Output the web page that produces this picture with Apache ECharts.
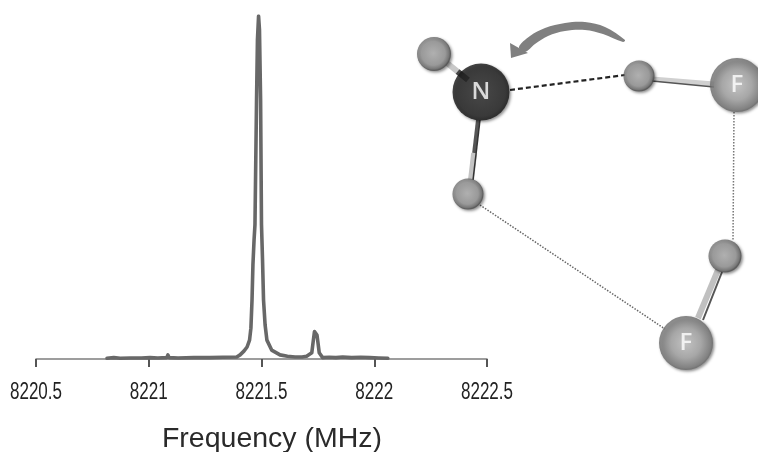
<!DOCTYPE html>
<html>
<head>
<meta charset="utf-8">
<style>html,body{margin:0;padding:0;background:#fff}#c{width:758px;height:452px}</style>
<script src="https://cdn.jsdelivr.net/npm/echarts@6/dist/echarts.min.js"></script>
</head>
<body>
<div id="c"></div>
<script>
const frequency = [8220.815,8220.845,8220.873,8220.92,8220.955,8220.961,8220.967,8221.006,8221.04,8221.08,8221.085,8221.09,8221.13,8221.2,8221.27,8221.33,8221.39,8221.405,8221.422,8221.436,8221.447,8221.453,8221.458,8221.462,8221.467,8221.471,8221.478,8221.482,8221.487,8221.491,8221.496,8221.500,8221.5045,8221.509,8221.516,8221.524,8221.545,8221.582,8221.615,8221.649,8221.68,8221.70,8221.723,8221.730,8221.735,8221.740,8221.746,8221.749,8221.756,8221.771,8221.80,8221.83,8221.86,8221.90,8221.94,8221.98,8222.02,8222.06];
const intensity = [0.002,0.004,0.002,0.003,0.003,0.006,0.003,0.004,0.003,0.004,0.012,0.004,0.003,0.004,0.004,0.005,0.006,0.012,0.023,0.035,0.055,0.090,0.172,0.274,0.347,0.391,0.755,0.93,1.0,0.96,0.755,0.391,0.29,0.172,0.099,0.055,0.026,0.012,0.008,0.006,0.006,0.008,0.018,0.055,0.08,0.082,0.07,0.055,0.018,0.004,0.005,0.004,0.006,0.004,0.005,0.004,0.003,0.002];
const xTickValues = [8220.5,8221,8221.5,8222,8222.5];
const xTickLabels = ['8220.5','8221','8221.5','8222','8222.5'];
const xTitle = 'Frequency (MHz)';

// molecule diagram, in the units of the hidden diagram axes
const atomNames = ['H','N','H','F','H','H','F'];
const atomX = [434,481,639,737,468,725,686];
const atomY = [54,92,76,85,194,256,343];
const atomSizes = [34,57,31,54,31,33,54];

const dashedBondX = [510,625]; const dashedBondY = [90,75];
const dottedBond1X = [734,733]; const dottedBond1Y = [112,240];
const dottedBond2X = [480,665]; const dottedBond2Y = [205,329];

const bond1X = [447,468]; const bond1Y = [63,80];
const bond2X = [478,471]; const bond2Y = [120,180];
const bond2LineX = [480,473]; const bond2LineY = [120,180];
const bond3X = [652,714]; const bond3Y = [79,84];
const bond3LineX = [652,714]; const bond3LineY = [81,87];
const bond4X = [718,698]; const bond4Y = [270,318];
const bond4LineX = [722,703]; const bond4LineY = [272,320];

const arrowHeadX = [510,511,528]; const arrowHeadY = [43,58,53];
const arrowBodyX = [519,530,545,565,585,605,625,623,603,585,565,548,535,525];
const arrowBodyY = [47,36,28,23,22,27,40,42,34,30,31,36,44,52];

const chart = echarts.init(document.getElementById('c'), null, {renderer:'canvas'});
const FONT = '"Liberation Sans", Arial, sans-serif';

function bond(xs, ys, width, color, type) {
  return {type:'line', xAxisIndex:1, yAxisIndex:1, symbol:'none', silent:true, z:2,
    data:[[xs[0],ys[0]],[xs[1],ys[1]]],
    lineStyle:{width:width,color:color,type:type||'solid',cap:'butt'}};
}
function part(xs, ys, from, to) {
  const p = t => [xs[0]+(xs[1]-xs[0])*t, ys[0]+(ys[1]-ys[0])*t];
  const a = p(from), b = p(to);
  return [[a[0],b[0]],[a[1],b[1]]];
}
function atomFill(name) {
  if (name === 'N') return {type:'radial',x:0.5,y:0.5,r:0.5,colorStops:[{offset:0,color:'#363636'},{offset:0.85,color:'#242424'},{offset:1,color:'#141414'}]};
  if (name === 'F') return {type:'radial',x:0.5,y:0.5,r:0.5,colorStops:[{offset:0,color:'#cfcfcf'},{offset:0.55,color:'#adadad'},{offset:0.92,color:'#7e7e7e'},{offset:1,color:'#666'}]};
  return {type:'radial',x:0.48,y:0.48,r:0.5,colorStops:[{offset:0,color:'#b8b8b8'},{offset:0.7,color:'#9c9c9c'},{offset:0.92,color:'#727272'},{offset:1,color:'#505050'}]};
}
const atomData = atomNames.map((n,i)=>({
  value:[atomX[i],atomY[i]],
  symbolSize:atomSizes[i],
  itemStyle:{color:atomFill(n),shadowBlur:3,shadowOffsetX:1.5,shadowOffsetY:1.5,shadowColor:'rgba(0,0,0,0.55)'},
  label:{show:n!=='H',formatter:n}
}));
const b1a = part(bond1X,bond1Y,0,0.5), b1b = part(bond1X,bond1Y,0.5,1);
const b2a = part(bond2X,bond2Y,0,0.55), b2b = part(bond2X,bond2Y,0.55,1);

chart.setOption({
  animation:false,
  backgroundColor:'#fff',
  grid:[
    {left:36,right:271,top:16,bottom:93,outerBoundsMode:'none'},
    {left:0,right:0,top:0,bottom:0,outerBoundsMode:'none'}
  ],
  xAxis:[
    {type:'value',gridIndex:0,min:8220.5,max:8222.5,interval:0.5,
      name:xTitle,nameLocation:'middle',nameGap:66,
      nameTextStyle:{fontFamily:FONT,fontSize:28.5,color:'#2a2a2a',padding:[0,0,0,21]},
      axisLine:{onZero:false,lineStyle:{color:'#7d7d7d',width:1.5}},
      axisTick:{show:true,length:8,lineStyle:{color:'#555',width:2}},
      splitLine:{show:false},
      axisLabel:{show:false}
    },
    {type:'value',gridIndex:1,min:0,max:758,show:false}
  ],
  yAxis:[
    {type:'value',gridIndex:0,min:0,max:1,show:false},
    {type:'value',gridIndex:1,min:0,max:452,inverse:true,show:false}
  ],
  series:[
    {type:'line',xAxisIndex:0,yAxisIndex:0,symbol:'none',silent:true,z:3,
      data:frequency.map((f,i)=>[f,intensity[i]]),
      lineStyle:{color:'#686868',width:3.6,join:'round',cap:'round'}},
    {type:'custom',xAxisIndex:0,yAxisIndex:0,silent:true,z:4,clip:false,
      data:xTickValues.map(v=>[v,0]),
      renderItem:function(params,api){
        const p=api.coord([api.value(0),0]);
        return {type:'text',x:p[0],y:p[1]+34,scaleX:0.74,
          style:{text:xTickLabels[params.dataIndex],fontFamily:FONT,fontSize:23,fill:'#222',align:'center',verticalAlign:'middle'}};
      }},
    bond(dashedBondX,dashedBondY,2.2,'#222',[5,3]),
    bond(dottedBond1X,dottedBond1Y,1.5,'#777',[1.5,1.5]),
    bond(dottedBond2X,dottedBond2Y,1.5,'#666',[1.5,1.5]),
    bond(b1a[0],b1a[1],6,'#c8c8c8'),
    bond(b1b[0],b1b[1],6,'#444'),
    bond(b2a[0],b2a[1],4,'#555'),
    bond(b2b[0],b2b[1],6,'#c4c4c4'),
    bond(bond2LineX,bond2LineY,1.5,'#333'),
    bond(bond3X,bond3Y,5,'#d0d0d0'),
    bond(bond3LineX,bond3LineY,1.5,'#555'),
    bond(bond4X,bond4Y,6,'#c0c0c0'),
    bond(bond4LineX,bond4LineY,2,'#555'),
    {type:'custom',xAxisIndex:1,yAxisIndex:1,silent:true,z:2,coordinateSystem:'cartesian2d',
      data:[[0,0]],
      renderItem:function(params,api){
        const pts=(xs,ys)=>xs.map((x,i)=>api.coord([x,ys[i]]));
        return {type:'group',children:[
          {type:'polygon',shape:{points:pts(arrowBodyX,arrowBodyY),smooth:0.35},style:{fill:'#808080'}},
          {type:'polygon',shape:{points:pts(arrowHeadX,arrowHeadY)},style:{fill:'#808080'}}
        ]};
      }},
    {type:'scatter',xAxisIndex:1,yAxisIndex:1,silent:true,z:5,symbol:'circle',
      data:atomData,
      label:{position:'inside',color:'#ffffff',fontFamily:'"Open Sans", "Liberation Sans", sans-serif',fontWeight:600,fontSize:24,
        textShadowColor:'rgba(0,0,0,0.6)',textShadowBlur:0,textShadowOffsetX:1,textShadowOffsetY:1}}
  ]
});
</script>
</body>
</html>
